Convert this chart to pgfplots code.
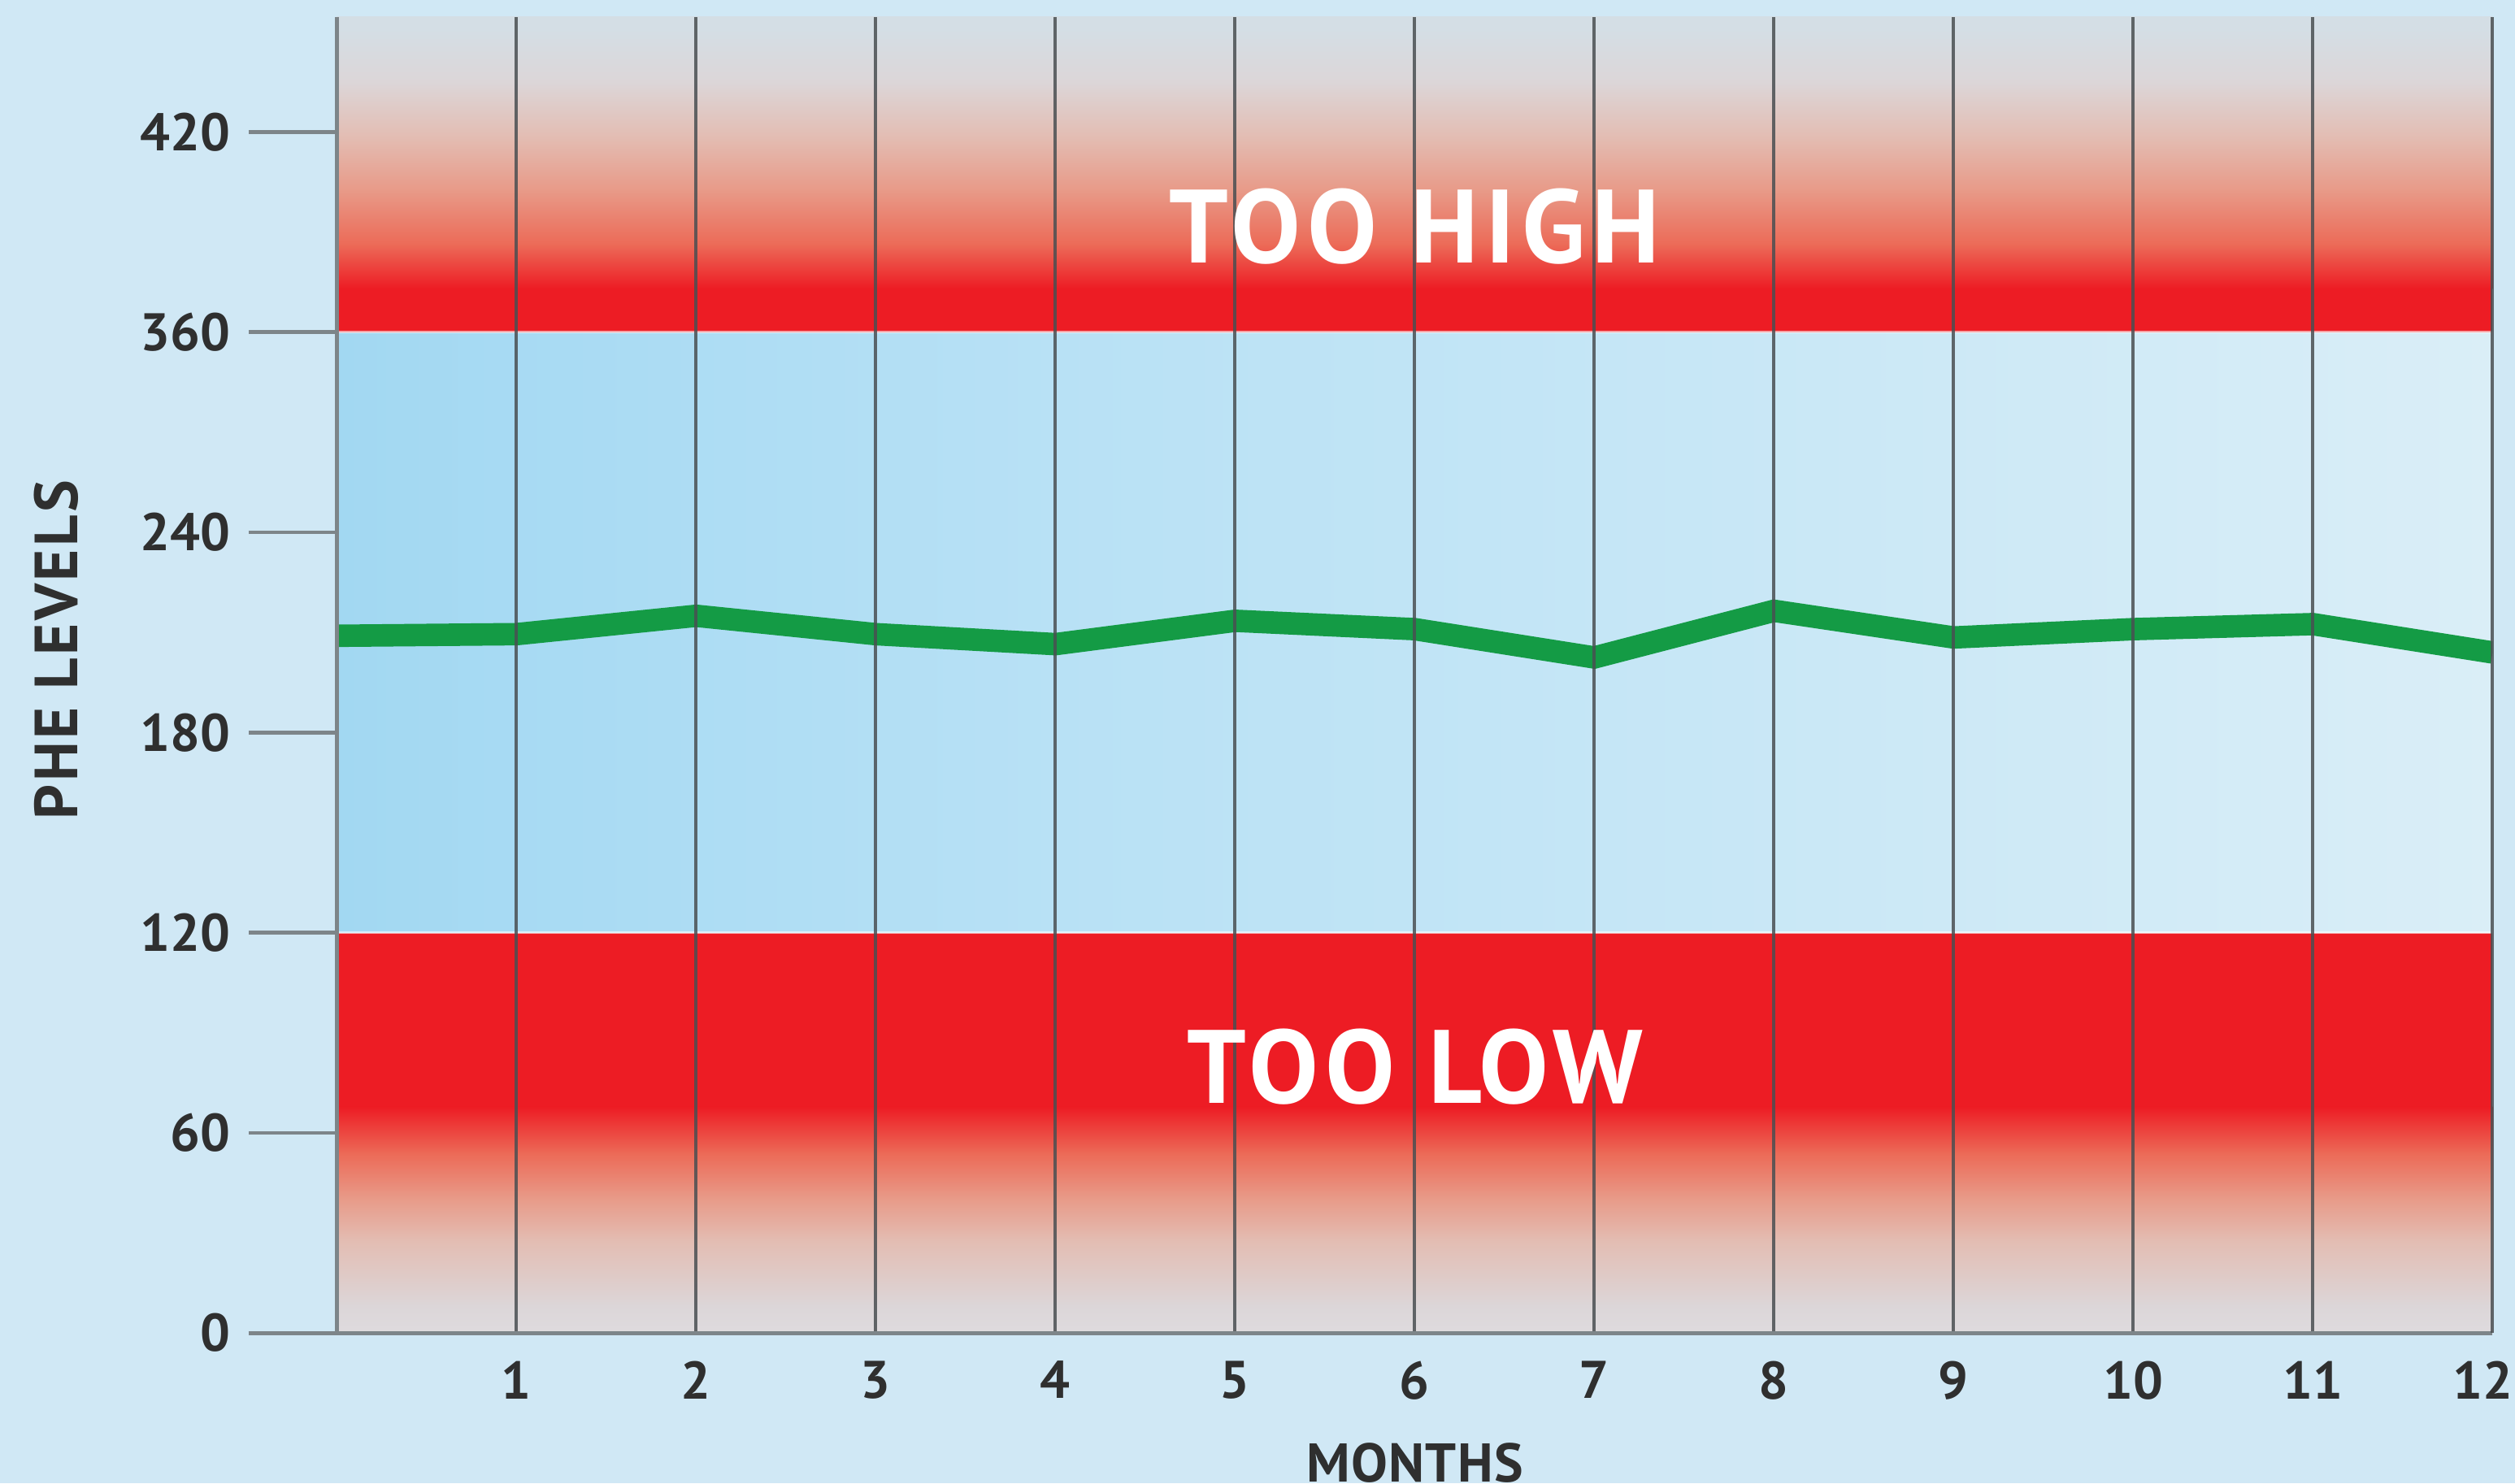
\documentclass[border=0pt]{standalone}
\usepackage{fontspec}
\setmainfont{PT Sans}
\usepackage{pgfplots}
\usepackage{pgfplotstable}
\pgfplotsset{compat=1.18}

\definecolor{bgblue}{HTML}{D0E8F5}
\definecolor{bandred}{HTML}{ED1C24}
\definecolor{linegreen}{HTML}{149B45}
\definecolor{gridgray}{HTML}{4A4F52}
\definecolor{axisgray}{HTML}{7D8589}
\definecolor{txt}{HTML}{2F2F2F}
\definecolor{fadeA}{HTML}{EC6B58}
\definecolor{fadeB}{HTML}{E89A88}
\definecolor{fadeC}{HTML}{E3BDB3}
\definecolor{fadeD}{HTML}{DCD6D8}
\definecolor{fadeE}{HTML}{D4DEE5}
\definecolor{fadeF}{HTML}{DEDBDE}

% top band fade: red (bottom, 25bp) -> greyish (top, 75bp)
\pgfdeclareverticalshading{topfade}{100bp}{%
  color(0bp)=(bandred); color(25bp)=(bandred);
  color(33.2bp)=(fadeA);
  color(43.1bp)=(fadeB);
  color(53bp)=(fadeC);
  color(63bp)=(fadeD);
  color(72.9bp)=(fadeE);
  color(75bp)=(fadeE);
  color(100bp)=(fadeE)}
% bottom band fade: greyish (bottom) -> red (top)
\pgfdeclareverticalshading{botfade}{100bp}{%
  color(0bp)=(fadeF); color(25bp)=(fadeF);
  color(31bp)=(fadeD);
  color(45.3bp)=(fadeC);
  color(54.8bp)=(fadeB);
  color(64.5bp)=(fadeA);
  color(75bp)=(bandred); color(100bp)=(bandred)}

\definecolor{midL}{HTML}{A2D8F2}
\definecolor{midM}{HTML}{B8E1F5}
\definecolor{midR}{HTML}{DAEEF7}
\pgfdeclarehorizontalshading{midzone}{100bp}{%
  color(0bp)=(midL); color(25bp)=(midL);
  color(41.7bp)=(midM);
  color(75bp)=(midR); color(100bp)=(midR)}

\pgfplotstableread{
month phe
0 209
1 209.5
2 215
3 209.5
4 206.5
5 213.5
6 211
7 202.5
8 216.5
9 208.5
10 211
11 212.5
12 204
}\phedata

\begin{document}
\begin{tikzpicture}
\fill[bgblue] (-105pt,-46.9pt) rectangle (679pt,415.6pt);
\begin{axis}[
  at={(0pt,0pt)}, anchor=south west,
  width=672pt, height=410.35pt, scale only axis,
  xmin=0, xmax=12, ymin=0, ymax=6.576,
  axis on top,
  axis x line*=bottom, axis y line*=left,
  axis line style={axisgray, line width=1.3pt, -},
  xtick={1,...,11}, xticklabels={1,2,3,4,5,6,7,8,9,10,11},
  extra x ticks={12}, extra x tick labels={12},
  extra x tick style={grid=major, xticklabel style={xshift=-3pt}},
  xtick style={draw=none},
  ytick={0,1,2,3,4,5,6}, yticklabels={0,60,120,180,240,360,420},
  ytick style={axisgray, line width=1.2pt},
  tick align=outside, major tick length=27.5pt,
  xmajorgrids,
  x grid style={gridgray, line width=1pt, opacity=0.85},
  ticklabel style={font=\bfseries\fontsize{16.5}{16.5}\selectfont, text=txt},
  yticklabel style={anchor=east, inner sep=0pt, xshift=-5.6pt},
  xticklabel style={anchor=north, inner sep=0pt, yshift=18.85pt},
  /pgf/number format/assume math mode=true,
  xlabel={MONTHS}, ylabel={PHE LEVELS},
  label style={text=txt, inner sep=0pt},
  xlabel style={font=\bfseries\fontsize{17}{17}\selectfont\addfontfeatures{LetterSpace=2}, at={(axis description cs:0.5,-0.0834)}, anchor=north},
  ylabel style={font=\bfseries\fontsize{19}{19}\selectfont\addfontfeatures{LetterSpace=4.5}, at={(axis description cs:-0.1302,0.519)}, anchor=center},
]
% zones
\path[shading=midzone] (axis cs:0,2) rectangle (axis cs:12,5);
\fill[bandred] (axis cs:0,4.999) rectangle (axis cs:12,5.22);
\path[shading=topfade] (axis cs:0,5.218) rectangle (axis cs:12,6.576);
\fill[bandred] (axis cs:0,1.129) rectangle (axis cs:12,2.0);
\path[shading=botfade] (axis cs:0,0) rectangle (axis cs:12,1.131);
\draw[white, opacity=0.6, line width=0.7pt] (axis cs:0,5) -- (axis cs:12,5);
\draw[white, opacity=0.6, line width=0.7pt] (axis cs:0,2) -- (axis cs:12,2);
% data
\addplot[linegreen, line width=7pt, line join=miter, no markers]
  table[x=month, y expr={\thisrow{phe}<=240 ? \thisrow{phe}/60 : (\thisrow{phe}<=360 ? 4+(\thisrow{phe}-240)/120 : 5+(\thisrow{phe}-360)/60)}] {\phedata};
\coordinate (hi) at (axis cs:6,5.53);
\coordinate (lo) at (axis cs:6,1.33);
\end{axis}
\node[text=white, font=\bfseries\fontsize{32.5}{32.5}\selectfont\addfontfeatures{LetterSpace=6.5}, inner sep=0pt] at (hi) {TOO HIGH};
\node[text=white, font=\bfseries\fontsize{32.5}{32.5}\selectfont\addfontfeatures{LetterSpace=6.5}, inner sep=0pt] at (lo) {TOO LOW};
\pgfresetboundingbox
\path[use as bounding box] (-105pt,-46.9pt) rectangle (679pt,415.6pt);
\end{tikzpicture}
\end{document}
